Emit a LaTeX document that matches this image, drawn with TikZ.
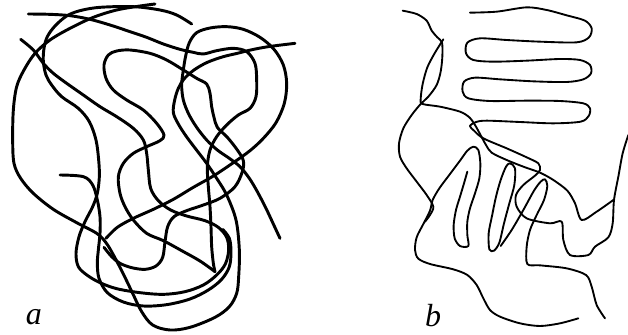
\documentclass[tikz,border=0pt]{standalone}
\usepackage{fontspec}
\setmainfont{Liberation Serif}
\begin{document}
\begin{tikzpicture}[x=0.25pt,y=-0.25pt,
  stroka/.style={line width=2.2pt,line cap=round,line join=round},
  strokb/.style={line width=1.4pt,line cap=round,line join=round},
  lbl/.style={font=\itshape\fontsize{24}{24}\selectfont,inner sep=0pt}]
\useasboundingbox (0,0) rectangle (1884,1005);
% ---------- panel a ----------
\draw[stroka] plot[smooth,tension=0.55] coordinates {(85,42) (150,43) (210,47) (270,58) (330,75) (390,95) (440,112) (490,132) (540,148) (580,157) (610,162) (650,152) (700,145) (740,155) (765,190) (770,240) (768,290) (750,325) (715,345) (680,375) (650,410) (630,450) (622,500) (625,560) (630,620) (633,680) (635,740) (640,790) (645,815)};
\draw[stroka] plot[smooth,tension=0.55] coordinates {(645,815) (600,783) (545,752) (490,722) (440,700) (400,660) (375,620) (360,580) (355,530) (370,490) (400,460) (440,440) (480,422) (492,405) (470,370) (430,330) (380,300) (340,270) (318,235) (312,195) (325,165) (350,153) (390,150) (450,160) (500,180) (550,210) (590,235) (620,252) (630,280) (635,320) (642,352) (652,382) (682,412) (712,450) (730,482) (727,515) (705,560) (660,595) (610,615) (560,632) (522,650) (503,680) (495,725) (488,772) (468,798) (435,808) (395,803) (360,790) (335,770) (312,742)};
\draw[stroka] plot[smooth,tension=0.55] coordinates {(575,72) (530,45) (480,30) (400,20) (300,22) (240,32) (200,48) (165,78) (142,110) (132,145) (130,185) (138,225) (155,255) (185,290) (235,325) (268,365) (288,420) (296,480) (298,530) (292,580) (278,620) (255,665) (237,710) (228,760) (235,800) (262,826) (300,848) (350,866) (420,878) (490,883) (555,875) (610,855) (650,825) (676,792) (686,750) (680,712) (655,682) (615,662) (560,648) (512,630) (475,602) (452,565) (445,510) (440,460) (430,420) (400,385) (350,350) (300,320) (250,285) (200,250) (160,220) (130,190) (100,150) (62,118)};
\draw[stroka] plot[smooth,tension=0.55] coordinates {(180,525) (250,530) (278,555) (292,600) (300,650) (300,700) (295,750) (292,790) (297,835) (322,878) (370,906) (430,918) (500,914) (570,897) (625,870) (665,838) (688,800) (693,755) (688,715) (668,688)};
\draw[stroka] plot[smooth,tension=0.55] coordinates {(840,715) (820,672) (798,625) (772,575) (748,535) (720,500) (688,475) (652,450) (620,420) (590,382) (566,342) (550,300) (545,255) (550,210) (557,168) (568,128) (590,98) (630,84) (680,80) (730,88) (780,112) (822,148) (850,195) (860,250) (853,310) (828,368) (790,415) (750,452) (700,488) (640,528) (580,562) (520,598) (460,628) (400,655) (352,682) (318,715)};
\draw[stroka] plot[smooth,tension=0.55] coordinates {(465,12) (420,18) (350,30) (280,52) (210,85) (150,120) (105,160) (72,210) (50,260) (40,330) (38,420) (42,490) (62,535) (100,580) (160,628) (230,668) (290,700) (318,728) (342,768) (370,822) (398,880) (425,935) (458,975) (510,990) (570,982) (645,952) (688,920) (710,880) (716,830) (718,750) (708,660) (680,585) (650,535) (620,490) (588,448) (558,408) (535,372) (520,338) (524,300) (535,265) (552,237) (582,210) (622,187) (670,170) (712,160) (752,150) (805,140) (885,130)};
\node[lbl] (la) at (102,952) {a};
% ---------- panel b ----------
\begin{scope}[shift={(1140,0)}]
\draw[strokb] plot[smooth,tension=0.5] coordinates {(270,38) (350,35) (440,22) (500,30) (560,46) (615,62) (635,85) (627,112) (590,127) (480,125) (380,120) (300,115) (262,128) (258,160) (280,180) (340,185) (440,182) (540,177) (600,180) (630,195) (633,220) (610,238) (560,246) (460,244) (360,238) (285,233) (252,245) (248,275) (265,295) (330,303) (440,302) (540,303) (610,310) (630,325) (626,348) (602,365) (520,370) (420,366) (320,362) (288,366) (270,378) (282,392) (310,415) (380,445) (440,472) (475,490) (480,510) (465,527) (430,555) (408,585) (410,620) (440,655) (510,670) (545,665) (550,720) (570,765) (625,765) (645,740) (685,712) (698,670) (702,600) (715,530) (728,460) (745,405)};
\draw[strokb] plot[smooth,tension=0.5] coordinates {(68,32) (110,42) (140,62) (155,92) (172,112) (186,128) (187,170) (182,215) (170,255) (145,290) (122,312) (95,345) (70,385) (57,430) (60,470) (80,505) (110,545) (140,585) (160,620) (150,645) (135,665)};
\draw[strokb] plot[smooth,tension=0.5] coordinates {(190,118) (165,158) (142,202) (128,252) (122,298) (128,312) (180,320) (240,335) (268,352) (285,375) (300,402) (318,435) (335,458) (380,480) (430,500) (480,518) (520,540) (562,572) (585,610) (605,660) (650,635) (700,600)};
\draw[strokb] plot[smooth,tension=0.5] coordinates {(595,955) (540,970) (480,978) (420,970) (360,950) (330,930) (310,895) (290,855) (262,825) (220,808) (150,792) (115,776) (105,750) (110,712) (130,672) (150,632) (158,600) (178,565) (210,522) (240,482) (262,452) (280,440) (295,450) (301,490) (298,535) (285,580) (270,625) (262,665) (262,705) (265,738) (240,738) (224,715) (221,675) (228,630) (240,590) (252,550) (262,515)};
\draw[strokb] plot[smooth cycle,tension=0.5] coordinates {(390,490) (405,505) (403,555) (388,610) (372,670) (358,728) (342,752) (328,748) (326,700) (336,648) (348,590) (362,540) (378,500)};
\draw[strokb] plot[smooth,tension=0.5] coordinates {(362,738) (395,690) (430,630) (462,572) (482,545) (495,538) (502,558) (492,600) (470,645) (450,690) (440,740) (442,792) (480,796) (560,805) (618,825) (635,860) (650,915) (675,955)};
\node[lbl] (lb) at (159,946) {b};
\end{scope}
\end{tikzpicture}
\end{document}
